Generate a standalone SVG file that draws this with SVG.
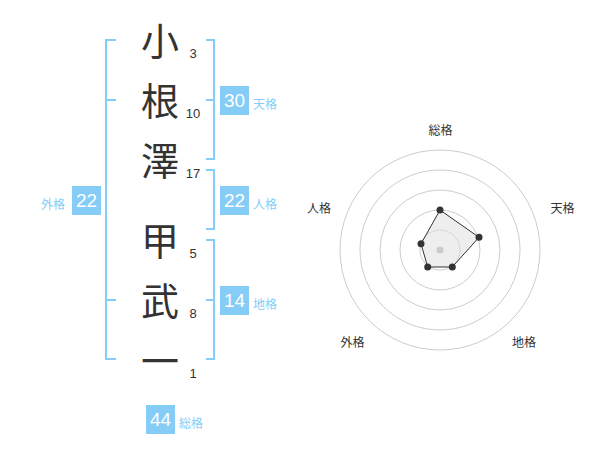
<svg xmlns="http://www.w3.org/2000/svg" width="600" height="470" viewBox="0 0 600 470">
<style>
.ch{font-family:"Noto Sans CJK JP","Noto Sans CJK SC",sans-serif;font-size:38px;fill:#333;text-anchor:middle}
.num{font-family:"Liberation Sans",Arial,sans-serif;font-size:13px;fill:#333;text-anchor:middle}
.br{fill:none;stroke:#85cdf7;stroke-width:2}
.box{fill:#85cdf7}
.bn{font-family:"Liberation Sans",Arial,sans-serif;font-size:19px;fill:#fff;text-anchor:middle}
.bl{font-family:"Noto Sans CJK JP","Noto Sans CJK SC",sans-serif;font-size:12px;fill:#85cdf7}
.ring{fill:none;stroke:#ccc;stroke-width:1}
.rl{font-family:"Noto Sans CJK JP","Noto Sans CJK SC",sans-serif;font-size:12px;fill:#333;text-anchor:middle}
.dot{fill:#333}
</style>
<rect width="600" height="470" fill="#fff"/>
<g id="chars">
<text class="ch" x="160" y="54.5">小</text>
<text class="ch" x="160" y="114.5">根</text>
<text class="ch" x="160" y="174.5">澤</text>
<text class="ch" x="160" y="254.5">甲</text>
<text class="ch" x="160" y="314.5">武</text>
<text class="ch" x="160" y="374.5">一</text>
</g>
<g id="strokes">
<text class="num" x="193" y="57.5">3</text>
<text class="num" x="193" y="117.5">10</text>
<text class="num" x="193" y="177.5">17</text>
<text class="num" x="193" y="257.5">5</text>
<text class="num" x="193" y="317.5">8</text>
<text class="num" x="193" y="377.5">1</text>
</g>
<g id="connectors">
<path class="br" d="M116,40 H106 V359 H116 M106,100 H116 M106,300 H116"/>
<path class="br" d="M206,40 H214 V159 H206 M206,100 H214"/>
<path class="br" d="M206,170 H214 V229 H206"/>
<path class="br" d="M206,240 H214 V359 H206 M206,300 H214"/>
</g>
<g id="tenkaku">
<rect class="box" x="220" y="86" width="29" height="29"/>
<text class="bn" x="234.5" y="107">30</text>
<text class="bl" x="253" y="109">天格</text>
</g>
<g id="jinkaku">
<rect class="box" x="220" y="186" width="29" height="29"/>
<text class="bn" x="234.5" y="207">22</text>
<text class="bl" x="253" y="209">人格</text>
</g>
<g id="chikaku">
<rect class="box" x="220" y="286" width="29" height="29"/>
<text class="bn" x="234.5" y="307">14</text>
<text class="bl" x="253" y="309">地格</text>
</g>
<g id="gaikaku">
<rect class="box" x="72" y="186" width="29" height="29"/>
<text class="bn" x="86.5" y="207">22</text>
<text class="bl" x="41" y="209">外格</text>
</g>
<g id="soukaku">
<rect class="box" x="146" y="405" width="29" height="29"/>
<text class="bn" x="160.5" y="426">44</text>
<text class="bl" x="179" y="428">総格</text>
</g>
<g id="radar">
<circle class="ring" cx="440" cy="250" r="20"/>
<circle class="ring" cx="440" cy="250" r="40"/>
<circle class="ring" cx="440" cy="250" r="60"/>
<circle class="ring" cx="440" cy="250" r="80"/>
<circle class="ring" cx="440" cy="250" r="100"/>
<polygon points="440,210 479,237.3 452.3,267 427.7,267 421,243.8" fill="#ddd" fill-opacity="0.5" stroke="#333" stroke-width="1"/>
<circle cx="440" cy="250" r="3.5" fill="#ccc"/>
<circle class="dot" cx="440" cy="210" r="3.5"/>
<circle class="dot" cx="479" cy="237.3" r="3.5"/>
<circle class="dot" cx="452.3" cy="267" r="3.5"/>
<circle class="dot" cx="427.7" cy="267" r="3.5"/>
<circle class="dot" cx="421" cy="243.8" r="3.5"/>
<text class="rl" x="440.5" y="134.5">総格</text>
<text class="rl" x="562.5" y="212.5">天格</text>
<text class="rl" x="524" y="347">地格</text>
<text class="rl" x="352.5" y="347">外格</text>
<text class="rl" x="319" y="212.5">人格</text>
</g>
</svg>
